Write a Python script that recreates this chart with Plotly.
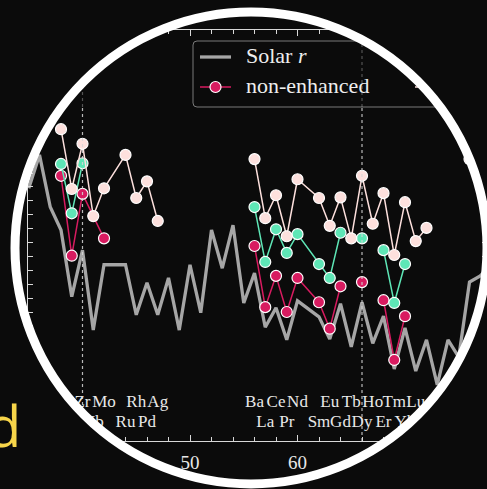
import numpy as np
import plotly.graph_objects as go

# ---------------------------------------------------------------- data
# Solar r-process pattern (scaled log eps) by atomic number
z_solar = [35, 36, 37, 38, 39, 40, 41, 42, 44, 45, 46, 47, 48, 49, 50, 51, 52, 53, 54, 55,
           56, 57, 58, 59, 60, 62, 63, 64, 65, 66, 67, 68, 69, 70, 71, 72, 73, 74, 75, 76, 77, 78]
eps_solar = [1.78, 2.26, 1.51, 1.18, 0.22, 0.89, -0.26, 0.68, 0.68, -0.04, 0.42, -0.04, 0.49,
             -0.26, 0.68, -0.01, 1.18, 0.63, 1.25, 0.13, 0.56, -0.22, 0.06, -0.40, 0.16,
             -0.07, -0.39, 0.12, -0.50, 0.14, -0.45, -0.06, -0.82, -0.23, -0.85, -0.40,
             -1.05, -0.40, -0.65, 0.43, 0.52, 0.68]

# non-enhanced stars (None breaks the connecting line)
z_non = [38, 39, 40, 42, 43, 56, 57, 58, 59, 60, 62, 63, 64, 65, 66, 67, 68, 69, 70]
eps_non = [1.96, 0.81, 1.70, 1.06, None, 0.95, 0.07, 0.52, 0.00, 0.49, 0.14, -0.24, 0.37,
           None, 0.43, None, 0.17, -0.69, -0.06]

# r-I stars
z_r1 = [38, 39, 40, 41, 56, 57, 58, 59, 60, 62, 63, 64, 65, 66, 67, 68, 69, 70]
eps_r1 = [2.13, 1.42, 2.14, None, 1.51, 0.72, 1.19, 0.85, 1.12, 0.69, 0.49, 1.14, None,
          1.06, None, 0.89, 0.13, 0.69]

# r-II stars
z_r2 = [38, 39, 40, 41, 42, 44, 45, 46, 47, 48, 56, 57, 58, 59, 60, 62, 63, 64, 65, 66,
        67, 68, 69, 70, 71, 72, 73, 76]
eps_r2 = [2.63, 1.77, 2.42, 1.38, 1.78, 2.26, 1.64, 1.88, 1.31, None, 2.20, 1.35, 1.68,
          1.09, 1.91, 1.64, 1.24, 1.65, 1.06, 1.96, 1.27, 1.71, 0.82, 1.58, 1.02, 1.21,
          None, 2.20]

# element labels along the bottom axis (two staggered rows)
label_z = [38, 39, 40, 41, 42, 44, 45, 46, 47, 56, 57, 58, 59, 60, 62, 63, 64, 65, 66,
           67, 68, 69, 70, 71]
label_sym = ['Sr', 'Y', 'Zr', 'Nb', 'Mo', 'Ru', 'Rh', 'Pd', 'Ag', 'Ba', 'La', 'Ce', 'Pr',
             'Nd', 'Sm', 'Eu', 'Gd', 'Tb', 'Dy', 'Ho', 'Er', 'Tm', 'Yb', 'Lu']
label_row = [0, 1, 0, 1, 0, 1, 0, 1, 0, 0, 1, 0, 1, 0, 1, 0, 1, 0, 1, 0, 1, 0, 1, 0]

marked_z = [40, 66]          # dotted reference lines

legend_names = ['Solar <i>r</i>', 'non-enhanced', '<i>r</i>-I', '<i>r</i>-II']

# ---------------------------------------------------------------- styling
W, H = 487, 489
L, R, T, B = 28, 0, 30, 48
BG = '#0b0b0b'
GRAY = '#a6a6a6'
CRIMSON = '#d81b60'
TURQ = '#5ee6b6'
PINK = '#fde0dd'
AXC = '#d8d8d8'
SERIF = 'Liberation Serif'

# pixel helpers for the zoomed view
X50, PX_PER_Z = 190.0, 10.75
Y0, PX_PER_DEX = 312.0, 69.5


def zx(px):
    return 50 + (px - X50) / PX_PER_Z


def vy(py):
    return (Y0 - py) / PX_PER_DEX


def ppx(px):
    return (px - L) / (W - L - R)


def ppy(py):
    return (H - B - py) / (H - T - B)


fig = go.Figure()

fig.add_trace(go.Scatter(x=z_solar, y=eps_solar, mode='lines',
                         line=dict(color=GRAY, width=3.3), hoverinfo='skip'))

for zs, es, col in [(z_non, eps_non, CRIMSON), (z_r1, eps_r1, TURQ), (z_r2, eps_r2, PINK)]:
    fig.add_trace(go.Scatter(
        x=zs, y=es, mode='lines+markers', connectgaps=False,
        line=dict(color=col, width=1.5),
        marker=dict(size=11, color=col, line=dict(color='white', width=1.2)),
        hoverinfo='skip'))

# element symbols
fig.add_trace(go.Scatter(
    x=label_z, y=[vy(403) if r == 0 else vy(423) for r in label_row],
    mode='text', text=label_sym, textposition='middle center', cliponaxis=False,
    textfont=dict(family=SERIF, size=17, color='#e8e8e8'), hoverinfo='skip'))

# axis title
fig.add_trace(go.Scatter(
    x=[zx(268)], y=[vy(483)], mode='text', text=['Atomic number'],
    textposition='middle right', cliponaxis=False,
    textfont=dict(family=SERIF, size=20, color='#e8e8e8'), hoverinfo='skip'))

# legend entries
fig.add_trace(go.Scatter(
    x=[zx(246), zx(246), zx(462), zx(462)], y=[vy(57), vy(87), vy(57), vy(87)],
    mode='text', text=legend_names, textposition='middle right', cliponaxis=False,
    textfont=dict(family=SERIF, size=22, color='#eeeeee'), hoverinfo='skip'))

shapes = []
# legend frame (rounded)
rr = 4
shapes.append(dict(
    type='path', xref='paper', yref='paper', layer='between',
    path=(f"M {ppx(193 + rr)},{ppy(41)} L {ppx(560)},{ppy(41)} L {ppx(560)},{ppy(107)} "
          f"L {ppx(193 + rr)},{ppy(107)} Q {ppx(193)},{ppy(107)} {ppx(193)},{ppy(107 - rr)} "
          f"L {ppx(193)},{ppy(41 + rr)} Q {ppx(193)},{ppy(41)} {ppx(193 + rr)},{ppy(41)} Z"),
    fillcolor='rgba(12,12,12,0.85)', line=dict(color='#7a7a7a', width=1)))

# dotted reference lines
for zm in marked_z:
    shapes.append(dict(type='line', xref='x', yref='paper', x0=zm, x1=zm,
                       y0=0, y1=ppy(107), layer='above',
                       line=dict(color='rgba(215,215,215,0.85)', width=1.2, dash='dot')))
    shapes.append(dict(type='line', xref='x', yref='paper', x0=zm, x1=zm,
                       y0=ppy(107), y1=1, layer='above',
                       line=dict(color='rgba(215,215,215,0.35)', width=1.2, dash='dot')))

# legend handles
handles = [(200, 57, GRAY, 3.3, False), (200, 87, CRIMSON, 1.5, True),
           (415, 57, TURQ, 1.5, True), (415, 87, PINK, 1.5, True)]
for hx, hy, col, lw, mk in handles:
    shapes.append(dict(type='line', xref='paper', yref='paper', layer='above',
                       x0=ppx(hx), x1=ppx(hx + 31), y0=ppy(hy), y1=ppy(hy),
                       line=dict(color=col, width=lw)))
    if mk:
        cxh = hx + 15.5
        shapes.append(dict(type='circle', xref='paper', yref='paper', layer='above',
                           x0=ppx(cxh - 5.5), x1=ppx(cxh + 5.5),
                           y0=ppy(hy + 5.5), y1=ppy(hy - 5.5),
                           fillcolor=col, line=dict(color='white', width=1.2)))

# lens: dark surround with a circular window, then the white rim
CX, CY, RAD = 251.0, 248.0, 236.0
ang = np.linspace(0, 2 * np.pi, 241)[:-1]
circ = ' L '.join(f"{ppx(CX + RAD * np.cos(a)):.5f},{ppy(CY + RAD * np.sin(a)):.5f}" for a in ang)
mask = (f"M {ppx(-20)},{ppy(-20)} L {ppx(W + 20)},{ppy(-20)} L {ppx(W + 20)},{ppy(H + 20)} "
        f"L {ppx(-20)},{ppy(H + 20)} Z M {circ} Z")
shapes.append(dict(type='path', xref='paper', yref='paper', layer='above', path=mask,
                   fillcolor=BG, fillrule='evenodd', line=dict(width=0)))
shapes.append(dict(type='circle', xref='paper', yref='paper', layer='above',
                   x0=ppx(CX - RAD), x1=ppx(CX + RAD), y0=ppy(CY + RAD), y1=ppy(CY - RAD),
                   line=dict(color='white', width=9)))

fig.update_layout(
    width=W, height=H, margin=dict(l=L, r=R, t=T, b=B),
    paper_bgcolor=BG, plot_bgcolor='rgba(0,0,0,0)', showlegend=False,
    shapes=shapes,
    annotations=[dict(text='d', xref='paper', yref='paper', x=ppx(23), y=ppy(425),
                      xanchor='right', yanchor='middle', showarrow=False,
                      font=dict(family='Open Sans', size=56, color='#f7d54a'))],
    xaxis=dict(range=[zx(L), zx(W)], showgrid=False, zeroline=False,
               showline=True, linecolor=AXC, linewidth=1.2, mirror='allticks',
               ticks='inside', ticklen=6, tickcolor=AXC, tickwidth=1.2,
               tick0=0, dtick=10, ticklabelstandoff=4,
               tickfont=dict(family=SERIF, size=19, color='#e8e8e8'),
               minor=dict(dtick=2, tick0=0, ticks='inside', ticklen=4,
                          tickcolor=AXC, tickwidth=1.2)),
    yaxis=dict(range=[vy(H - B), vy(T)], showgrid=False, zeroline=False,
               showline=True, linecolor=AXC, linewidth=1.2, mirror='allticks',
               ticks='inside', ticklen=5, tickcolor=AXC, tickwidth=1.2,
               tick0=0, dtick=0.2, showticklabels=False),
)

fig.write_html('out.html', config={'displayModeBar': False})
